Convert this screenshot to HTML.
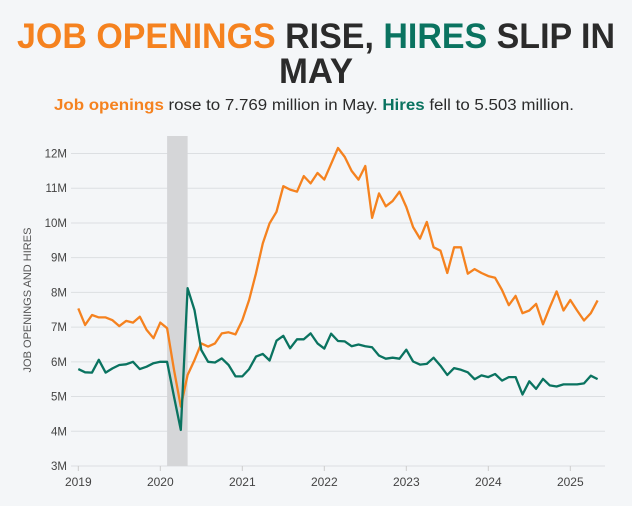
<!DOCTYPE html>
<html><head><meta charset="utf-8"><style>
html,body{margin:0;padding:0;background:#f4f6f8;}
svg{display:block;font-family:"Liberation Sans",sans-serif;}
</style></head><body>
<svg id="chart" width="632" height="506" viewBox="0 0 632 506">
<rect width="632" height="506" fill="#f4f6f8"/>
<text x="316" y="48" text-anchor="middle" font-size="35" font-weight="bold" textLength="598" lengthAdjust="spacingAndGlyphs" fill="#2b2b2b"><tspan fill="#f5821f">JOB OPENINGS</tspan> RISE, <tspan fill="#0a7360">HIRES</tspan> SLIP IN</text>
<text x="316" y="83" text-anchor="middle" font-size="35" font-weight="bold" textLength="74" lengthAdjust="spacingAndGlyphs" fill="#2b2b2b">MAY</text>
<text x="314" y="110" text-anchor="middle" font-size="15.5" textLength="520" lengthAdjust="spacingAndGlyphs" fill="#2b2b2b"><tspan fill="#f5821f" font-weight="bold">Job openings</tspan> rose to 7.769 million in May. <tspan fill="#0a7360" font-weight="bold">Hires</tspan> fell to 5.503 million.</text>
<g id="grid"></g>
<g id="plot"></g>
<text transform="translate(31,300) rotate(-90)" text-anchor="middle" font-size="11" fill="#555">JOB OPENINGS AND HIRES</text>
</svg>
<script>
const yTicks=[3,4,5,6,7,8,9,10,11,12];
const xTickYears=[2019,2020,2021,2022,2023,2024,2025];
const recession=[2020.083,2020.333];
const openings=[7.54,7.06,7.35,7.28,7.28,7.2,7.03,7.18,7.13,7.3,6.92,6.68,
7.13,6.97,5.77,4.71,5.62,6.05,6.53,6.44,6.53,6.82,6.85,6.79,
7.2,7.78,8.55,9.41,9.99,10.32,11.06,10.96,10.9,11.35,11.14,11.44,
11.25,11.7,12.16,11.9,11.5,11.25,11.64,10.15,10.85,10.48,10.63,10.9,
10.46,9.88,9.55,10.03,9.3,9.2,8.56,9.3,9.3,8.54,8.67,8.56,
8.47,8.42,8.07,7.63,7.9,7.4,7.48,7.67,7.08,7.57,8.03,7.48,
7.78,7.48,7.19,7.4,7.769];
const hires=[5.79,5.7,5.69,6.06,5.69,5.81,5.91,5.93,6.0,5.79,5.86,5.96,
6.0,6.0,5.0,4.04,8.12,7.49,6.34,6.0,5.98,6.1,5.91,5.58,
5.58,5.79,6.15,6.23,6.04,6.61,6.75,6.39,6.65,6.65,6.82,6.53,
6.38,6.81,6.6,6.59,6.45,6.5,6.45,6.42,6.18,6.09,6.12,6.09,
6.35,6.01,5.92,5.94,6.12,5.89,5.62,5.82,5.77,5.7,5.5,5.61,
5.56,5.65,5.46,5.56,5.56,5.06,5.44,5.22,5.51,5.32,5.29,5.35,
5.35,5.35,5.38,5.6,5.503];
const startYear=2019;
const NS="http://www.w3.org/2000/svg";
function xS(t){return 78.3+(t-2019)*82.0;}
function yS(v){return 466-(v-3)*34.72;}
function mk(tag,attrs,parent){const e=document.createElementNS(NS,tag);for(const k in attrs)e.setAttribute(k,attrs[k]);parent.appendChild(e);return e;}
const grid=document.getElementById('grid'),plot=document.getElementById('plot');
yTicks.forEach(v=>{
 const l=mk('line',{x1:71,x2:605,y1:yS(v),y2:yS(v),stroke:'#dcdfe2','stroke-width':1},grid);
 
 
 const t=mk('text',{x:67,y:yS(v)+4,'text-anchor':'end','font-size':11.5,fill:'#444'},grid);
 t.textContent=v+'M';
 
 
});
xTickYears.forEach(y=>{
 const tk=mk('line',{x1:xS(y),x2:xS(y),y1:466,y2:471,stroke:'#ccc'},grid);
 
 
 const t=mk('text',{x:xS(y),y:486,'text-anchor':'middle','font-size':12,fill:'#444'},grid);
 t.textContent=y;
 
 
});
const rb=mk('rect',{x:xS(recession[0]),y:136,width:xS(recession[1])-xS(recession[0]),height:330,fill:'#d5d6d8'},plot);


function line(arr,color,name){
 const d=arr.map((v,i)=>(i?'L':'M')+xS(startYear+i/12).toFixed(1)+','+yS(v).toFixed(1)).join('');
 const p=mk('path',{d:d,fill:'none',stroke:color,'stroke-width':2.3,'stroke-linejoin':'round'},plot);
 
 
}
line(openings,'#f5821f','job-openings-line');
line(hires,'#0a7360','hires-line');
</script>
</body></html>
